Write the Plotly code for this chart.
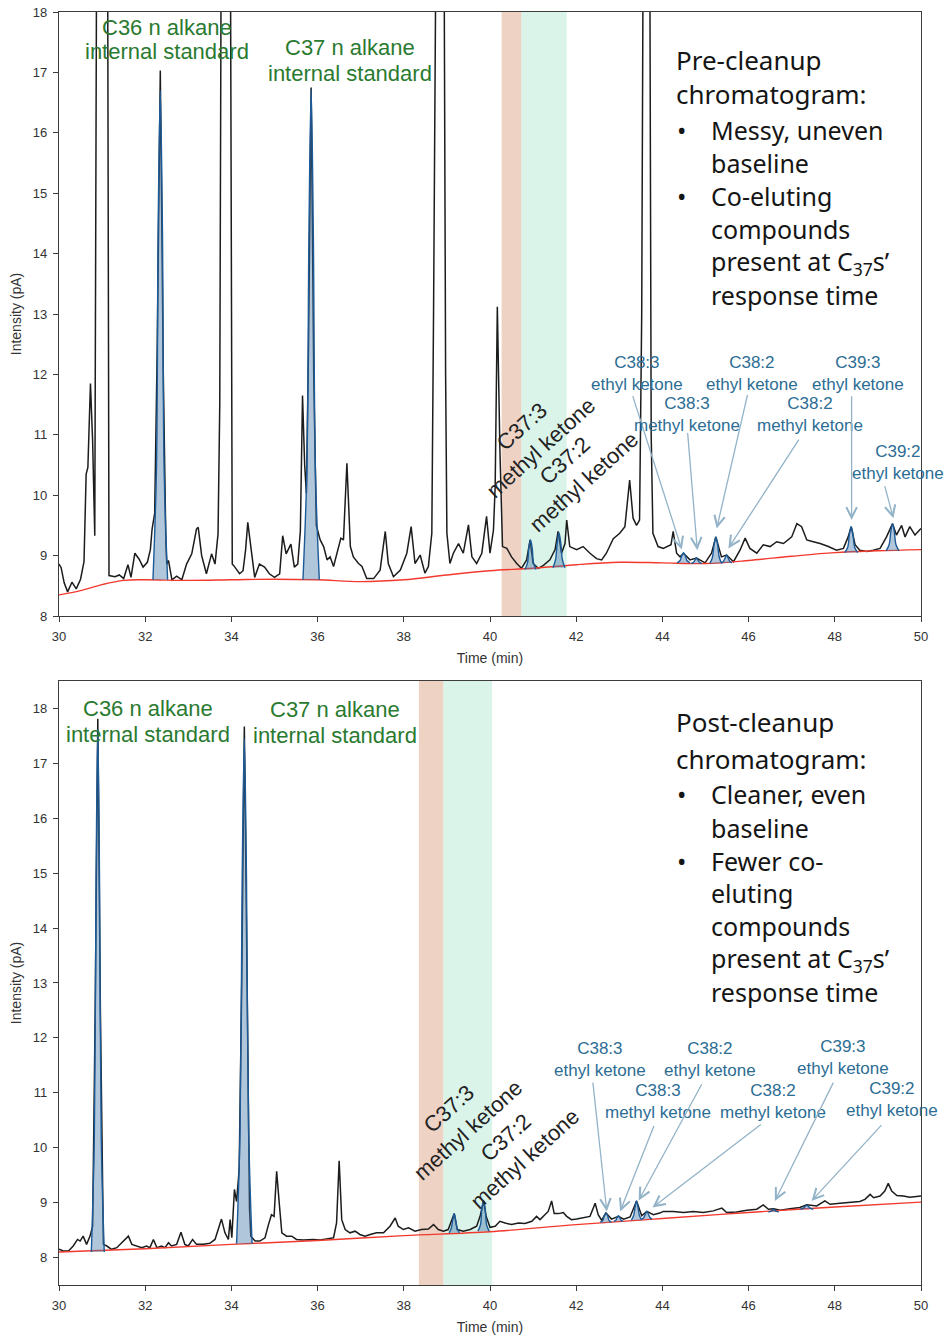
import plotly.graph_objects as go

# ---------------- DATA: pre-cleanup chromatogram (top) ----------------
pre_time = [30.00, 30.05, 30.12, 30.20, 30.30, 30.40, 30.50, 30.58, 30.63, 30.67, 30.73, 30.78, 30.83, 30.87, 31.00, 31.13, 31.16,
            31.30, 31.40, 31.50, 31.60, 31.67, 31.76, 31.86, 31.95, 32.05, 32.12, 32.16, 32.22, 32.28, 32.35, 32.42, 32.48,
            32.50, 32.54, 32.62, 32.73, 32.85, 32.96, 33.08, 33.19, 33.23, 33.31, 33.42, 33.54, 33.62, 33.69, 33.73, 33.76,
            33.87, 33.98, 34.00, 34.02, 34.08, 34.19, 34.27, 34.33, 34.38, 34.46, 34.54, 34.65, 34.77, 34.88, 35.00, 35.12,
            35.19, 35.27, 35.38, 35.46, 35.54, 35.60, 35.65, 35.70, 35.74, 35.79, 35.85, 35.91, 35.97, 36.06, 36.14, 36.22,
            36.29, 36.37, 36.45, 36.54, 36.60, 36.68, 36.76, 36.83, 36.95, 37.03, 37.14, 37.30, 37.45, 37.57, 37.64, 37.76,
            37.92, 38.07, 38.17, 38.26, 38.38, 38.49, 38.57, 38.65, 38.69, 38.74, 38.83, 38.93, 38.97, 39.00, 39.07, 39.15,
            39.27, 39.38, 39.50, 39.58, 39.69, 39.81, 39.92, 40.00, 40.08, 40.12, 40.17, 40.23, 40.29, 40.39, 40.50, 40.62,
            40.73, 40.85, 40.93, 41.00, 41.12, 41.24, 41.39, 41.51, 41.58, 41.66, 41.74, 41.78, 41.85, 42.01, 42.16, 42.32,
            42.47, 42.59, 42.70, 42.86, 43.01, 43.13, 43.19, 43.24, 43.32, 43.40, 43.47, 43.52, 43.55, 43.63, 43.71, 43.74,
            43.78, 43.90, 44.02, 44.13, 44.20, 44.25, 44.33, 44.41, 44.49, 44.64, 44.79, 44.99, 45.14, 45.24, 45.37, 45.49,
            45.65, 45.80, 45.92, 46.03, 46.19, 46.34, 46.50, 46.65, 46.81, 47.00, 47.12, 47.23, 47.35, 47.50, 47.66, 47.85,
            48.04, 48.20, 48.31, 48.38, 48.47, 48.58, 48.74, 48.89, 49.05, 49.20, 49.34, 49.43, 49.55, 49.63, 49.74, 49.86,
            50.00]
pre_signal = [8.86, 8.80, 8.55, 8.40, 8.56, 8.45, 8.61, 8.90, 10.35, 10.46, 11.85, 10.90, 9.33, 18.5, 40.0, 18.5, 8.67,
              8.65, 8.68, 8.62, 8.85, 8.64, 9.04, 8.94, 8.81, 8.89, 9.10, 9.44, 9.70, 12.5, 17.03, 12.0, 9.20,
              8.86, 8.92, 8.60, 8.66, 8.60, 8.86, 9.03, 9.44, 9.47, 9.00, 8.70, 9.03, 8.86, 9.36, 11.5, 18.5,
              40.0, 18.5, 11.0, 8.86, 8.81, 8.70, 8.75, 9.10, 9.55, 9.08, 8.64, 8.86, 8.81, 8.70, 8.64, 8.70,
              9.33, 9.03, 9.19, 8.81, 8.86, 9.41, 11.65, 10.50, 10.03, 12.5, 16.75, 12.0, 9.50, 9.26, 9.15, 8.93,
              8.98, 8.82, 9.04, 9.29, 9.26, 10.53, 9.15, 8.98, 8.87, 8.82, 8.62, 8.62, 8.76, 9.40, 8.87, 8.65,
              8.76, 9.04, 9.48, 8.87, 9.01, 8.71, 8.82, 9.37, 13.0, 18.5, 40.0, 18.5, 12.0, 9.37, 8.87, 9.04,
              9.20, 9.04, 9.51, 8.98, 8.87, 9.04, 9.65, 9.04, 9.42, 10.14, 13.12, 10.75, 9.15, 9.12, 8.98, 8.87,
              8.79, 8.93, 9.26, 8.87, 8.79, 8.84, 8.93, 9.10, 9.40, 9.04, 9.20, 9.59, 9.15, 9.10, 9.15, 9.04,
              8.95, 8.93, 9.04, 9.28, 9.37, 9.48, 9.92, 10.25, 9.62, 9.50, 9.59, 13.0, 18.5, 40.0, 18.5, 11.0,
              9.37, 9.15, 9.12, 9.15, 9.18, 9.40, 9.04, 8.98, 9.04, 8.93, 8.96, 8.88, 9.04, 9.31, 8.98, 9.01,
              8.90, 9.09, 9.29, 9.12, 9.04, 9.18, 9.15, 9.23, 9.20, 9.31, 9.53, 9.48, 9.26, 9.23, 9.20, 9.15,
              9.09, 9.12, 9.31, 9.48, 9.18, 9.09, 9.07, 9.09, 9.12, 9.31, 9.53, 9.34, 9.50, 9.31, 9.48, 9.34,
              9.45]
pre_base_time = [30, 30.5, 31, 31.5, 32, 33, 34, 35, 36, 37, 38, 39, 40, 41, 42, 43, 44, 45, 46, 47, 48, 49, 50]
pre_base = [8.35, 8.42, 8.52, 8.59, 8.60, 8.59, 8.60, 8.61, 8.60, 8.57, 8.60, 8.68, 8.75, 8.79, 8.85, 8.89, 8.88,
            8.87, 8.92, 8.99, 9.05, 9.08, 9.10]
pre_peak_times = [
    [32.18, 32.26, 32.30, 32.35, 32.40, 32.44, 32.52],
    [35.66, 35.75, 35.80, 35.85, 35.90, 35.95, 36.04],
    [40.81, 40.87, 40.90, 40.94, 40.98, 41.01, 41.07],
    [41.46, 41.52, 41.56, 41.60, 41.64, 41.68, 41.74],
    [44.34, 44.41, 44.45, 44.49, 44.53, 44.57, 44.64],
    [44.67, 44.72, 44.76, 44.79, 44.82, 44.86, 44.91],
    [45.10, 45.16, 45.20, 45.24, 45.28, 45.32, 45.38],
    [45.37, 45.42, 45.46, 45.49, 45.52, 45.56, 45.61],
    [48.23, 48.30, 48.34, 48.38, 48.42, 48.46, 48.53],
    [49.19, 49.26, 49.30, 49.34, 49.38, 49.42, 49.49],
]
pre_peak_values = [
    [8.60, 10.4, 14.4, 16.70, 14.4, 10.4, 8.60],
    [8.60, 10.4, 14.4, 16.72, 14.4, 10.4, 8.60],
    [8.77, 8.88, 9.12, 9.26, 9.12, 8.88, 8.77],
    [8.80, 8.93, 9.22, 9.38, 9.22, 8.93, 8.80],
    [8.88, 8.92, 9.00, 9.05, 9.00, 8.92, 8.88],
    [8.87, 8.89, 8.93, 8.96, 8.93, 8.89, 8.87],
    [8.87, 8.97, 9.19, 9.31, 9.19, 8.97, 8.87],
    [8.88, 8.91, 8.97, 9.01, 8.97, 8.91, 8.88],
    [9.05, 9.14, 9.36, 9.48, 9.36, 9.14, 9.05],
    [9.08, 9.18, 9.40, 9.53, 9.40, 9.18, 9.08],
]

# ---------------- DATA: post-cleanup chromatogram (bottom) ----------------
post_time = [30.00, 30.10, 30.22, 30.33, 30.43, 30.49, 30.56, 30.64, 30.72, 30.78, 30.84, 30.90, 30.96, 31.03, 31.11,
             31.22, 31.34, 31.45, 31.53, 31.61, 31.69, 31.80, 31.92, 32.03, 32.11, 32.19, 32.27, 32.38, 32.46, 32.54,
             32.61, 32.73, 32.83, 32.92, 33.00, 33.10, 33.19, 33.35, 33.50, 33.62, 33.70, 33.77, 33.85, 33.93, 33.97,
             34.01, 34.07, 34.12, 34.18, 34.24, 34.30, 34.36, 34.42, 34.45, 34.55, 34.66, 34.78, 34.86, 34.93, 34.99,
             35.05, 35.11, 35.17, 35.28, 35.40, 35.51, 35.67, 35.90, 36.06, 36.21, 36.37, 36.44, 36.50, 36.56, 36.64,
             36.75, 36.87, 36.98, 37.10, 37.22, 37.37, 37.53, 37.68, 37.80, 37.87, 37.99, 38.11, 38.26, 38.41, 38.57,
             38.69, 38.80, 38.92, 39.03, 39.11, 39.17, 39.24, 39.38, 39.54, 39.69, 39.77, 39.85, 39.91, 40.00, 40.12,
             40.23, 40.35, 40.50, 40.66, 40.81, 40.97, 41.08, 41.16, 41.28, 41.35, 41.43, 41.49, 41.59, 41.70, 41.78,
             41.89, 42.01, 42.17, 42.32, 42.44, 42.51, 42.59, 42.69, 42.82, 42.98, 43.10, 43.25, 43.40, 43.52, 43.64,
             43.79, 43.94, 44.02, 44.25, 44.49, 44.72, 44.95, 45.18, 45.38, 45.49, 45.72, 45.96, 46.19, 46.34, 46.46,
             46.58, 46.73, 46.96, 47.19, 47.35, 47.58, 47.77, 47.89, 48.12, 48.35, 48.58, 48.70, 48.82, 48.90, 49.05,
             49.16, 49.24, 49.32, 49.44, 49.59, 49.74, 50.00]
post_signal = [8.15, 8.12, 8.12, 8.21, 8.33, 8.30, 8.39, 8.24, 8.39, 8.57, 12.5, 17.81, 12.5, 8.24, 8.21,
               8.15, 8.18, 8.27, 8.33, 8.39, 8.24, 8.21, 8.18, 8.21, 8.18, 8.33, 8.18, 8.21, 8.18, 8.27,
               8.21, 8.24, 8.46, 8.24, 8.21, 8.33, 8.24, 8.24, 8.26, 8.33, 8.51, 8.70, 8.45, 8.33, 8.69,
               8.36, 9.24, 9.02, 9.60, 13.0, 17.67, 13.0, 8.90, 8.39, 8.30, 8.30, 8.36, 8.60, 8.78, 8.75,
               9.57, 8.99, 8.45, 8.39, 8.39, 8.33, 8.32, 8.33, 8.32, 8.34, 8.36, 8.63, 9.76, 8.69, 8.51,
               8.45, 8.48, 8.42, 8.39, 8.42, 8.45, 8.45, 8.57, 8.72, 8.57, 8.51, 8.54, 8.48, 8.51, 8.52,
               8.60, 8.51, 8.48, 8.51, 8.69, 8.80, 8.51, 8.48, 8.51, 8.57, 8.75, 9.03, 8.75, 8.55, 8.57,
               8.66, 8.63, 8.60, 8.63, 8.62, 8.66, 8.75, 8.69, 8.78, 8.84, 9.03, 8.80, 8.80, 8.82, 8.75,
               8.69, 8.70, 8.72, 8.75, 8.99, 8.78, 8.68, 8.81, 8.70, 8.75, 8.70, 8.74, 9.03, 8.76, 8.84,
               8.78, 8.81, 8.84, 8.84, 8.82, 8.84, 8.82, 8.85, 8.90, 8.82, 8.83, 8.86, 8.88, 8.96, 8.88,
               8.89, 8.86, 8.89, 8.91, 8.96, 8.94, 9.03, 8.97, 8.99, 9.00, 9.02, 9.06, 9.15, 9.09, 9.12,
               9.21, 9.35, 9.21, 9.13, 9.12, 9.10, 9.12]
post_base_time = [30, 32, 34, 36, 38, 40, 42, 44, 46, 48, 50]
post_base = [8.10, 8.16, 8.24, 8.31, 8.40, 8.47, 8.60, 8.71, 8.82, 8.92, 9.01]
post_peak_times = [
    [30.75, 30.82, 30.86, 30.90, 30.94, 30.98, 31.05],
    [34.12, 34.20, 34.25, 34.30, 34.35, 34.40, 34.48],
    [39.05, 39.10, 39.14, 39.17, 39.20, 39.24, 39.29],
    [39.72, 39.78, 39.81, 39.85, 39.89, 39.92, 39.98],
    [42.56, 42.62, 42.65, 42.69, 42.73, 42.76, 42.82],
    [42.87, 42.92, 42.95, 42.98, 43.01, 43.04, 43.09],
    [43.28, 43.33, 43.37, 43.40, 43.43, 43.47, 43.52],
    [43.52, 43.57, 43.61, 43.64, 43.67, 43.71, 43.76],
    [46.46, 46.51, 46.55, 46.58, 46.61, 46.65, 46.70],
    [47.20, 47.27, 47.31, 47.35, 47.39, 47.43, 47.50],
]
post_peak_values = [
    [8.10, 10.2, 14.9, 17.62, 14.9, 10.2, 8.10],
    [8.25, 10.3, 14.9, 17.45, 14.9, 10.3, 8.25],
    [8.45, 8.53, 8.70, 8.80, 8.70, 8.53, 8.45],
    [8.48, 8.60, 8.88, 9.03, 8.88, 8.60, 8.48],
    [8.64, 8.68, 8.76, 8.81, 8.76, 8.68, 8.64],
    [8.66, 8.68, 8.73, 8.76, 8.73, 8.68, 8.66],
    [8.68, 8.76, 8.93, 9.03, 8.93, 8.76, 8.68],
    [8.70, 8.73, 8.80, 8.84, 8.80, 8.73, 8.70],
    [8.83, 8.84, 8.86, 8.88, 8.86, 8.84, 8.83],
    [8.88, 8.90, 8.93, 8.95, 8.93, 8.90, 8.88],
]

# ---------------- Labels ----------------
ketone_labels = ["C38:3<br>ethyl ketone", "C38:3<br>methyl ketone", "C38:2<br>ethyl ketone",
                 "C38:2<br>methyl ketone", "C39:3<br>ethyl ketone", "C39:2<br>ethyl ketone"]
# label centre, arrow tail, arrow tip (time, intensity)
pre_label_pos = [(43.41, 12.02), (44.57, 11.34), (46.08, 12.02), (47.42, 11.33), (48.53, 12.02), (49.47, 10.55)]
pre_arrow_tail = [(43.29, 11.69), (44.58, 11.08), (45.99, 11.71), (47.21, 10.97), (48.39, 11.69), (49.14, 10.20)]
pre_arrow_tip = [(44.45, 9.10), (44.81, 9.09), (45.26, 9.45), (45.53, 9.12), (48.39, 9.59), (49.36, 9.62)]
post_label_pos = [(42.55, 11.60), (43.90, 10.85), (45.10, 11.61), (46.57, 10.85), (48.20, 11.64), (49.32, 10.88)]
post_arrow_tail = [(42.38, 11.24), (43.83, 10.45), (44.95, 11.21), (46.33, 10.45), (48.00, 11.24), (49.13, 10.45)]
post_arrow_tip = [(42.71, 8.84), (43.02, 8.84), (43.45, 9.04), (43.77, 8.91), (46.61, 9.03), (47.46, 9.03)]

pre_notes = ["Pre-cleanup", "chromatogram:", "Messy, uneven", "baseline", "Co-eluting", "compounds",
             "present at C<sub>37</sub>s’", "response time"]
pre_note_y = [17.21, 16.64, 16.05, 15.50, 14.95, 14.40, 13.85, 13.31]
pre_note_indent = [0, 0, 2, 1, 2, 1, 1, 1]
post_notes = ["Post-cleanup", "chromatogram:", "Cleaner, even", "baseline", "Fewer co-", "eluting", "compounds",
              "present at C<sub>37</sub>s’", "response time"]
post_note_y = [17.75, 17.08, 16.45, 15.83, 15.23, 14.63, 14.03, 13.43, 12.83]
post_note_indent = [0, 0, 2, 1, 2, 1, 1, 1, 1]

# bands (C37:3 and C37:2 windows)
pre_bands = [(40.27, 40.73), (40.73, 41.78)]
post_bands = [(38.35, 38.92), (38.92, 40.05)]

# ---------------- Styling ----------------
BLACK = "#1c1c1c"
RED = "#f2392e"
PEAK_LINE = "#1d5b98"
PEAK_FILL = "rgba(64,120,170,0.42)"
GREEN = "#2a7a30"
BLUE_TXT = "#2c6d94"
ARROW = "#93b3c8"
BAND_COLORS = ["rgba(222,168,140,0.5)", "rgba(200,238,222,0.65)"]
FONT = "Liberation Sans, Arial, sans-serif"
NOTE_FONT = "Noto Sans, Open Sans, sans-serif"

fig = go.Figure()


def add_panel(xa, ya, t, s, bt, bs, pts, pvs):
    fig.add_trace(go.Scatter(x=t, y=s, mode="lines", line=dict(color=BLACK, width=1.5),
                             xaxis=xa, yaxis=ya, hoverinfo="skip", showlegend=False))
    fig.add_trace(go.Scatter(x=bt, y=bs, mode="lines", line=dict(color=RED, width=1.4, shape="spline"),
                             xaxis=xa, yaxis=ya, hoverinfo="skip", showlegend=False))
    for px_, py_ in zip(pts, pvs):
        fig.add_trace(go.Scatter(x=px_, y=py_, mode="lines", fill="toself", fillcolor=PEAK_FILL,
                                 line=dict(color=PEAK_LINE, width=1.4, shape="spline"),
                                 xaxis=xa, yaxis=ya, hoverinfo="skip", showlegend=False))


add_panel("x", "y", pre_time, pre_signal, pre_base_time, pre_base, pre_peak_times, pre_peak_values)
add_panel("x2", "y2", post_time, post_signal, post_base_time, post_base, post_peak_times, post_peak_values)

for (x0, x1), col in zip(pre_bands, BAND_COLORS):
    fig.add_shape(type="rect", xref="x", yref="y domain", x0=x0, x1=x1, y0=0, y1=1,
                  fillcolor=col, line=dict(width=0), layer="below")
for (x0, x1), col in zip(post_bands, BAND_COLORS):
    fig.add_shape(type="rect", xref="x2", yref="y2 domain", x0=x0, x1=x1, y0=0, y1=1,
                  fillcolor=col, line=dict(width=0), layer="below")


def text(xr, yr, x, y, s, size, color, family=FONT, xanchor="center", angle=0):
    fig.add_annotation(xref=xr, yref=yr, x=x, y=y, text=s, showarrow=False, xanchor=xanchor,
                       yanchor="middle", textangle=angle, align="center",
                       font=dict(size=size, color=color, family=family))


# green internal standard labels (one annotation per line)
for xr, yr, items in [
    ("x", "y", [(32.51, 17.75, "C36 n alkane"), (32.51, 17.34, "internal standard"),
                (36.75, 17.42, "C37 n alkane"), (36.75, 16.99, "internal standard")]),
    ("x2", "y2", [(32.06, 17.99, "C36 n alkane"), (32.06, 17.52, "internal standard"),
                  (36.40, 17.98, "C37 n alkane"), (36.40, 17.51, "internal standard")]),
]:
    for x, y, s in items:
        text(xr, yr, x, y, s, 22, GREEN)

# rotated C37 methyl ketone labels
text("x", "y", 40.97, 10.96, "C37:3<br>methyl ketone", 22, "#222222", angle=-42)
text("x", "y", 41.97, 10.40, "C37:2<br>methyl ketone", 22, "#222222", angle=-42)
text("x2", "y2", 39.26, 10.51, "C37:3<br>methyl ketone", 22, "#222222", angle=-42)
text("x2", "y2", 40.60, 9.99, "C37:2<br>methyl ketone", 22, "#222222", angle=-42)

# alkenone labels with arrows
for xr, yr, lp, tails, tips in [("x", "y", pre_label_pos, pre_arrow_tail, pre_arrow_tip),
                                ("x2", "y2", post_label_pos, post_arrow_tail, post_arrow_tip)]:
    for lab, (lx, ly), (ax, ay), (tx, ty) in zip(ketone_labels, lp, tails, tips):
        text(xr, yr, lx, ly, lab, 17, BLUE_TXT)
        fig.add_annotation(xref=xr, yref=yr, axref=xr, ayref=yr, x=tx, y=ty, ax=ax, ay=ay, text=" ",
                           showarrow=True, arrowhead=5, arrowsize=1.6, arrowwidth=1.3, arrowcolor=ARROW,
                           standoff=0, startstandoff=0, font=dict(size=2))

# right-hand notes
NOTE_X = [44.28, 45.07, 45.07]
for xr, yr, notes, ys, ind in [("x", "y", pre_notes, pre_note_y, pre_note_indent),
                               ("x2", "y2", post_notes, post_note_y, post_note_indent)]:
    for s, y, k in zip(notes, ys, ind):
        fs = 26 if k == 0 else 25
        text(xr, yr, NOTE_X[k], y, s, fs, "#151515", family=NOTE_FONT, xanchor="left")
        if k == 2:
            text(xr, yr, 44.45, y, "•", 25, "#151515", family=NOTE_FONT)

axis_common = dict(showline=True, mirror=True, linecolor="#3c3c3c", linewidth=1.3, ticks="outside",
                   ticklen=5, tickwidth=1.2, tickcolor="#3c3c3c", showgrid=False, zeroline=False,
                   automargin=False, ticklabelstandoff=3,
                   tickfont=dict(size=13, color="#333333", family=FONT))
x_ticks = [30, 32, 34, 36, 38, 40, 42, 44, 46, 48, 50]
y_ticks = [8, 9, 10, 11, 12, 13, 14, 15, 16, 17, 18]

fig.update_layout(
    width=946, height=1337,
    margin=dict(l=59, r=25, t=12, b=52),
    paper_bgcolor="white", plot_bgcolor="white",
    showlegend=False,
    xaxis=dict(domain=[0, 1], anchor="y", range=[30, 50], tickvals=x_ticks,
               title=dict(text="Time (min)", font=dict(size=14, color="#333333", family=FONT), standoff=10),
               **axis_common),
    yaxis=dict(domain=[0.5255, 1], anchor="x", range=[8, 18], tickvals=y_ticks,
               title=dict(text="Intensity (pA)", font=dict(size=14, color="#333333", family=FONT), standoff=7),
               **axis_common),
    xaxis2=dict(domain=[0, 1], anchor="y2", range=[30, 50], tickvals=x_ticks,
                title=dict(text="Time (min)", font=dict(size=14, color="#333333", family=FONT), standoff=10),
                **axis_common),
    yaxis2=dict(domain=[0, 0.4745], anchor="x2", range=[7.5, 18.5], tickvals=y_ticks,
                title=dict(text="Intensity (pA)", font=dict(size=14, color="#333333", family=FONT), standoff=7),
                **axis_common),
)

fig.write_html("out.html", config={"displayModeBar": False},
               post_script="document.body.style.margin='0';document.body.style.overflow='hidden';")
